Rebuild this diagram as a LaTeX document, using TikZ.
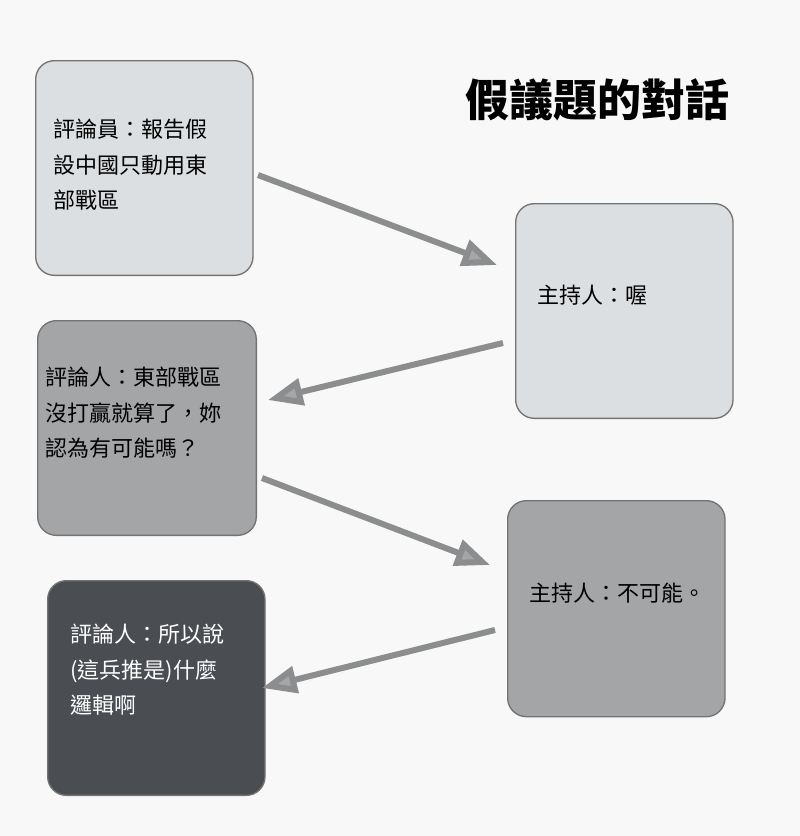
\documentclass[tikz,border=0pt]{standalone}
\usepackage{fontspec}
\setmainfont{Noto Sans CJK TC}
\usetikzlibrary{arrows.meta}
\definecolor{bgc}{HTML}{F8F8F8}
\definecolor{lightb}{HTML}{DCDFE2}
\definecolor{midb}{HTML}{A3A5A7}
\definecolor{darkb}{HTML}{4A4D52}
\definecolor{arr}{HTML}{A4A6A8}
\begin{document}
\begin{tikzpicture}[x=0.75pt,y=-0.75pt,
  box/.style={draw=black!55,line width=1pt,rounded corners=14pt,anchor=north west,inner sep=0pt},
  txt/.style={anchor=north west,align=left,font=\fontsize{16.5}{26.5}\selectfont,inner sep=0pt},
  conn/.style={draw=arr!85!black,line width=4.5pt,-{Triangle[length=26pt,width=20pt,fill=arr]}}]
\fill[bgc] (0,0) rectangle (800,836);
\useasboundingbox (0,0) rectangle (800,836);
\node[box,fill=lightb,minimum width=163pt,minimum height=161pt] (b1) at (35,60) {};
\node[box,fill=lightb,minimum width=163pt,minimum height=161pt] (b2) at (515,203) {};
\node[box,fill=midb,minimum width=164pt,minimum height=161pt] (b3) at (37,320) {};
\node[box,fill=midb,minimum width=163pt,minimum height=162pt] (b4) at (507,500) {};
\node[box,fill=darkb,minimum width=163pt,minimum height=161pt] (b5) at (47,580) {};
\node[txt] (t1) at (53,119) {評論員：報告假\\設中國只動用東\\部戰區};
\node[txt] (t2) at (537,285) {主持人：喔};
\node[txt] (t3) at (45,367) {評論人：東部戰區\\沒打贏就算了，妳\\認為有可能嗎？};
\node[txt] (t4) at (529,583) {主持人：不可能。};
\node[txt,text=white] (t5) at (70,624) {評論人：所以說\\(這兵推是)什麼\\邏輯啊};
\node[font=\fontsize{33}{38}\selectfont\bfseries] (title) at (597,100) {假議題的對話};
\coordinate (a1s) at (258,175); \coordinate (a1e) at (497,265);
\coordinate (a2s) at (503,343); \coordinate (a2e) at (268,400);
\coordinate (a3s) at (262,478); \coordinate (a3e) at (490,565);
\coordinate (a4s) at (495,630); \coordinate (a4e) at (262,688);
\draw[conn] (a1s) -- (a1e);
\draw[conn] (a2s) -- (a2e);
\draw[conn] (a3s) -- (a3e);
\draw[conn] (a4s) -- (a4e);
\end{tikzpicture}
\end{document}
